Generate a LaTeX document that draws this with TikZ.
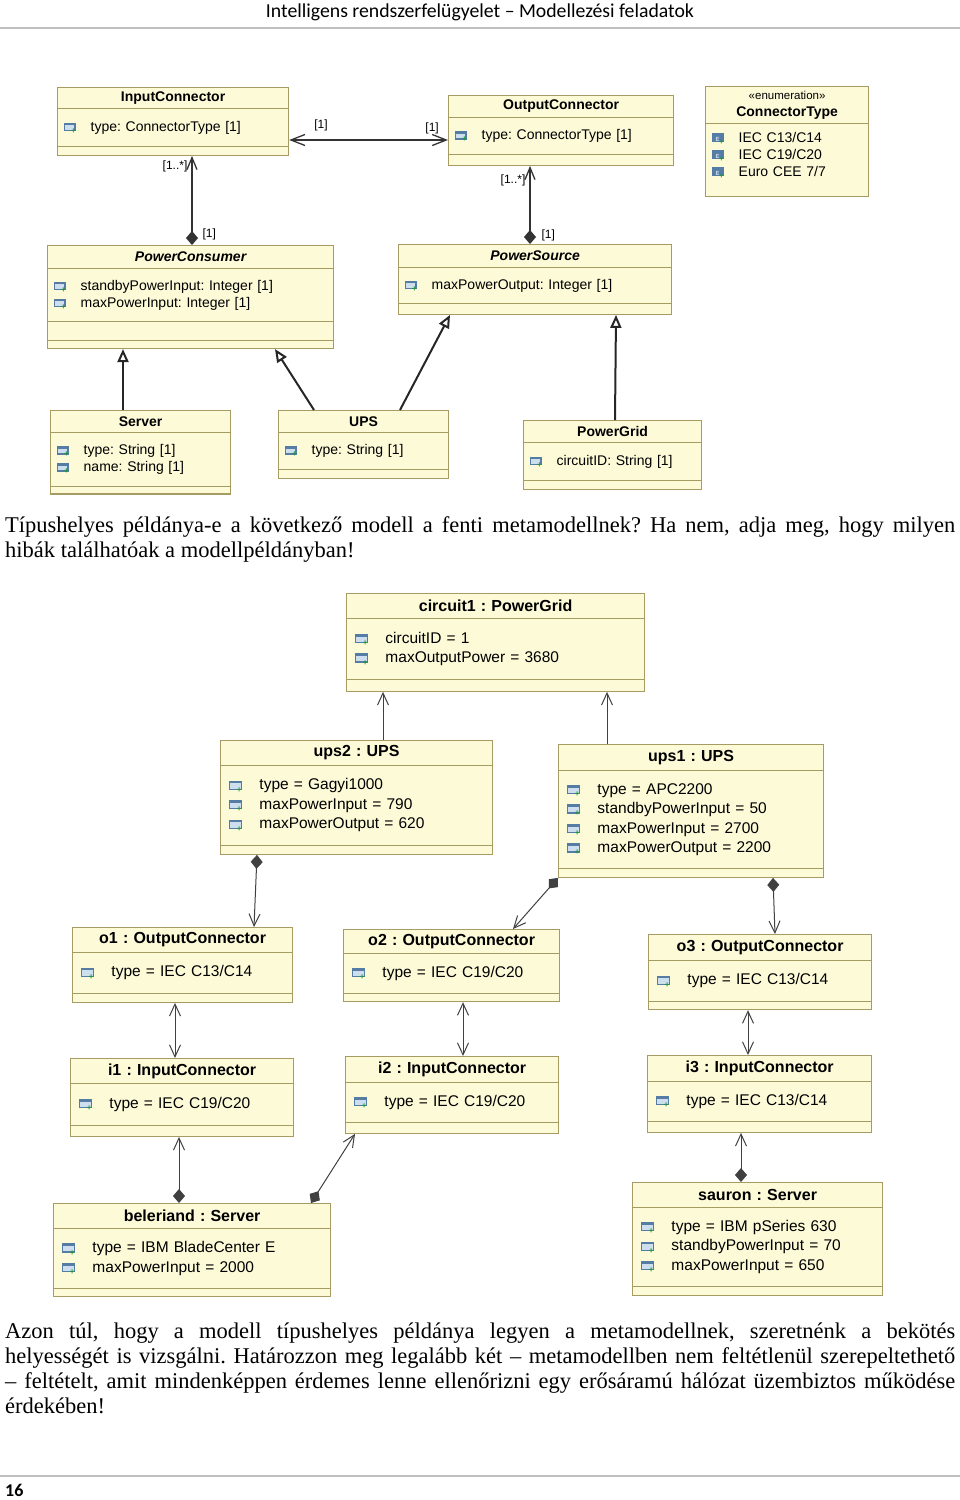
\documentclass[tikz,border=0pt]{standalone}
\usepackage{fontspec}
\setmainfont{Liberation Serif}
\setsansfont{Liberation Sans}
\newfontfamily\headfont{Carlito}
\usetikzlibrary{arrows.meta,shapes.multipart}
\frenchspacing

\definecolor{umlfill}{RGB}{253,250,216}
\definecolor{umlline}{RGB}{166,155,98}
\definecolor{iconblue}{RGB}{84,124,164}
\definecolor{iconfill}{RGB}{205,222,238}
\definecolor{icongreen}{RGB}{30,150,60}
\definecolor{rulegray}{RGB}{191,191,191}

% icons in front of attributes and literals
\newcommand{\attricon}{{\color{iconblue}\rule{0.85em}{0.6em}}\kern-0.77em%
  {\color{iconfill}\rule[0.08em]{0.69em}{0.34em}}\kern0.08em%
  \kern-0.32em\raisebox{-0.16em}{\textcolor{icongreen}{\fontsize{8}{8}\selectfont\bfseries +}}}
\newcommand{\liticon}{{\color{iconblue}\rule{0.85em}{0.7em}}\kern-0.77em%
  \makebox[0.69em]{\color{iconfill}\fontsize{6}{6}\selectfont\bfseries\raisebox{0.1em}{E}}\kern0.08em%
  \kern-0.32em\raisebox{-0.16em}{\textcolor{icongreen}{\fontsize{8}{8}\selectfont\bfseries +}}}

% compartments of a class box
\newcommand{\chead}[2]{\parbox[c][\dimexpr#1pt-1.3pt\relax][c]{\linewidth}{\centering #2}}
\newcommand{\cbody}[2]{\parbox[c][\dimexpr#1pt-1.3pt\relax][c]{\linewidth}{#2}}
\newcommand{\mattr}[1]{\hspace*{6pt}\attricon\hspace{15pt}#1\par}
\newcommand{\mlit}[1]{\hspace*{6pt}\liticon\hspace{15pt}#1\par}
\newcommand{\oattr}[1]{\hspace*{8pt}\attricon\hspace{18pt}#1\par}
\newcommand{\otitle}[1]{{\fontsize{16}{19}\selectfont\bfseries #1}}

\tikzset{umlbox/.style={draw=umlline, fill=umlfill, line width=1.2pt,
      rectangle split, inner sep=0pt, anchor=north west},
    meta/.style={umlbox, font=\sffamily\fontsize{14}{17}\selectfont},
    inst/.style={umlbox, font=\sffamily\fontsize{15.5}{19.5}\selectfont},
    mult/.style={font=\sffamily\fontsize{12}{14}\selectfont, inner sep=0pt},
    assoc/.style={draw=black!80, line width=1.3pt,
      arrows={Straight Barb[length=14pt,width=11pt]-Straight Barb[length=14pt,width=11pt]}},
    comp/.style={draw=black!80, line width=1.3pt,
      arrows={Diamond[length=14pt,width=12pt]-Straight Barb[length=12pt,width=10pt]}},
    gen/.style={draw=black!85, line width=2pt,
      arrows={-Triangle[fill=white,length=13pt,width=11pt]}},
    objlink/.style={draw=black!75, line width=1pt,
      arrows={-Straight Barb[length=12pt,width=11pt]}},
    objboth/.style={draw=black!75, line width=1pt,
      arrows={Straight Barb[length=12pt,width=11pt]-Straight Barb[length=12pt,width=11pt]}},
    objcomp/.style={draw=black!75, line width=1pt,
      arrows={Diamond[length=14pt,width=12pt]-Straight Barb[length=12pt,width=11pt]}},
    para/.style={anchor=north west, inner sep=0pt, text width=950pt, align=justify,
      font=\fontsize{22.5}{25}\selectfont},
    headtxt/.style={inner sep=0pt, font=\headfont\fontsize{19.75}{21}\selectfont},
    pgnum/.style={anchor=west, inner sep=0pt, font=\headfont\bfseries\fontsize{18}{20}\selectfont},
    }

\begin{document}
\begin{tikzpicture}[x=1pt, y=-1pt]
\useasboundingbox (0,0) rectangle (960,1500);
\node[headtxt] (hd) at (480,12) {Intelligens rendszerfelügyelet – Modellezési feladatok};
\draw[rulegray, line width=2pt] (0,28) -- (960,28);

% metamodel
\node[meta, rectangle split parts=3, text width=231pt] (ic) at (57,87) {\chead{21}{\bfseries InputConnector}\nodepart{two}\cbody{38}{\mattr{type: ConnectorType [1]}}\nodepart{three}\cbody{9}{}};
\node[meta, rectangle split parts=3, text width=225pt] (oc) at (448,95) {\chead{22}{\bfseries OutputConnector}\nodepart{two}\cbody{37}{\mattr{type: ConnectorType [1]}}\nodepart{three}\cbody{11}{}};
\node[meta, rectangle split parts=2, text width=163pt] (ct) at (705,86) {\chead{37}{{\fontsize{11.5}{13}\selectfont «enumeration»}\\[0pt]{\bfseries ConnectorType}}\nodepart{two}\cbody{73}{\mlit{IEC C13/C14}\mlit{IEC C19/C20}\mlit{Euro CEE 7/7}\vspace{9pt}}};
\node[meta, rectangle split parts=4, text width=286pt] (pc) at (47,245) {\chead{23}{\bfseries\itshape PowerConsumer}\nodepart{two}\cbody{53}{\mattr{standbyPowerInput: Integer [1]}\mattr{maxPowerInput: Integer [1]}}\nodepart{three}\cbody{19}{}\nodepart{four}\cbody{8}{}};
\node[meta, rectangle split parts=3, text width=273pt] (ps) at (398,244) {\chead{23}{\bfseries\itshape PowerSource}\nodepart{two}\cbody{36}{\mattr{maxPowerOutput: Integer [1]}}\nodepart{three}\cbody{11}{}};
\node[meta, rectangle split parts=3, text width=180pt] (srv) at (50,410) {\chead{22}{\bfseries Server}\nodepart{two}\cbody{54}{\mattr{type: String [1]}\mattr{name: String [1]}}\nodepart{three}\cbody{7}{}};
\node[meta, rectangle split parts=3, text width=170pt] (ups) at (278,410) {\chead{22}{\bfseries UPS}\nodepart{two}\cbody{37}{\mattr{type: String [1]}}\nodepart{three}\cbody{9}{}};
\node[meta, rectangle split parts=3, text width=178pt] (pg) at (523,420) {\chead{22}{\bfseries PowerGrid}\nodepart{two}\cbody{38}{\mattr{circuitID: String [1]}}\nodepart{three}\cbody{9}{}};

\coordinate (icr) at ([yshift=-53pt]ic.north east);
\draw[assoc] (icr) -- (icr -| oc.west)
  node[pos=0.2, above=8pt, mult] (m1) {[1]}
  node[pos=0.9, above=5pt, mult] (m2) {[1]};
\draw[comp] ([xshift=145pt]pc.north west) -- ([xshift=135pt]ic.south west)
  node[pos=0.88, left=4pt, mult] (m3) {[1..*]}
  node[pos=0.12, right=10pt, mult] (m4) {[1]};
\draw[comp] ([xshift=132pt]ps.north west) -- ([xshift=82pt]oc.south west)
  node[pos=0.82, left=4pt, mult] (m5) {[1..*]}
  node[pos=0.11, right=11pt, mult] (m6) {[1]};
\draw[gen] ([xshift=73pt]srv.north west) -- ([xshift=76pt]pc.south west);
\draw[gen] ([xshift=36pt]ups.north west) -- ([xshift=228pt]pc.south west);
\draw[gen] ([xshift=122pt]ups.north west) -- ([xshift=52pt]ps.south west);
\draw[gen] ([xshift=92pt]pg.north west) -- ([xshift=218pt]ps.south west);

\node[para] (q1) at (5,516) {Típushelyes példánya-e a következő modell a fenti metamodellnek? Ha nem, adja meg, hogy milyen\linebreak hibák találhatóak a modellpéldányban!};

% instance model
\node[inst, rectangle split parts=3, text width=298pt] (c1) at (346,593) {\chead{25}{\otitle{circuit1 : PowerGrid}}\nodepart{two}\cbody{61}{\oattr{circuitID = 1}\oattr{maxOutputPower = 3680}}\nodepart{three}\cbody{12}{}};
\node[inst, rectangle split parts=3, text width=272pt] (u2) at (220,740) {\chead{25}{\otitle{ups2 : UPS}}\nodepart{two}\cbody{80}{\oattr{type = Gagyi1000}\oattr{maxPowerInput = 790}\oattr{maxPowerOutput = 620}}\nodepart{three}\cbody{9}{}};
\node[inst, rectangle split parts=3, text width=265pt] (u1) at (558,744) {\chead{26}{\otitle{ups1 : UPS}}\nodepart{two}\cbody{98}{\oattr{type = APC2200}\oattr{standbyPowerInput = 50}\oattr{maxPowerInput = 2700}\oattr{maxPowerOutput = 2200}}\nodepart{three}\cbody{9}{}};
\node[inst, rectangle split parts=3, text width=220pt] (o1) at (72,927) {\chead{25}{\otitle{o1 : OutputConnector}}\nodepart{two}\cbody{41}{\oattr{type = IEC C13/C14}}\nodepart{three}\cbody{9}{}};
\node[inst, rectangle split parts=3, text width=216pt] (o2) at (343,929) {\chead{24}{\otitle{o2 : OutputConnector}}\nodepart{two}\cbody{40}{\oattr{type = IEC C19/C20}}\nodepart{three}\cbody{8}{}};
\node[inst, rectangle split parts=3, text width=223pt] (o3) at (648,934) {\chead{26}{\otitle{o3 : OutputConnector}}\nodepart{two}\cbody{41}{\oattr{type = IEC C13/C14}}\nodepart{three}\cbody{8}{}};
\node[inst, rectangle split parts=3, text width=223pt] (i1) at (70,1058) {\chead{25}{\otitle{i1 : InputConnector}}\nodepart{two}\cbody{42}{\oattr{type = IEC C19/C20}}\nodepart{three}\cbody{11}{}};
\node[inst, rectangle split parts=3, text width=213pt] (i2) at (345,1056) {\chead{26}{\otitle{i2 : InputConnector}}\nodepart{two}\cbody{40}{\oattr{type = IEC C19/C20}}\nodepart{three}\cbody{11}{}};
\node[inst, rectangle split parts=3, text width=224pt] (i3) at (647,1055) {\chead{26}{\otitle{i3 : InputConnector}}\nodepart{two}\cbody{40}{\oattr{type = IEC C13/C14}}\nodepart{three}\cbody{11}{}};
\node[inst, rectangle split parts=3, text width=277pt] (bel) at (53,1203) {\chead{25}{\otitle{beleriand : Server}}\nodepart{two}\cbody{60}{\oattr{type = IBM BladeCenter E}\oattr{maxPowerInput = 2000}}\nodepart{three}\cbody{8}{}};
\node[inst, rectangle split parts=3, text width=250pt] (sau) at (632,1182) {\chead{25}{\otitle{sauron : Server}}\nodepart{two}\cbody{79}{\oattr{type = IBM pSeries 630}\oattr{standbyPowerInput = 70}\oattr{maxPowerInput = 650}}\nodepart{three}\cbody{9}{}};

\draw[objlink] ([xshift=163pt]u2.north west) -- ([xshift=37pt]c1.south west);
\draw[objlink] ([xshift=49pt]u1.north west) -- ([xshift=261pt]c1.south west);
\draw[objcomp] ([xshift=37pt]u2.south west) -- ([xshift=182pt]o1.north west);
\draw[objcomp] (u1.south west) -- ([xshift=170pt]o2.north west);
\draw[objcomp] ([xshift=215pt]u1.south west) -- ([xshift=127pt]o3.north west);
\draw[objboth] ([xshift=103pt]o1.south west) -- ([xshift=105pt]i1.north west);
\draw[objboth] ([xshift=120pt]o2.south west) -- ([xshift=118pt]i2.north west);
\draw[objboth] ([xshift=100pt]o3.south west) -- ([xshift=101pt]i3.north west);
\draw[objcomp] ([xshift=126pt]bel.north west) -- ([xshift=109pt]i1.south west);
\draw[objcomp] ([xshift=258pt]bel.north west) -- ([xshift=10pt]i2.south west);
\draw[objcomp] ([xshift=109pt]sau.north west) -- ([xshift=94pt]i3.south west);

\node[para] (q2) at (5,1323) {Azon túl, hogy a modell típushelyes példánya legyen a metamodellnek, szeretnénk a bekötés\linebreak helyességét is vizsgálni. Határozzon meg legalább két – metamodellben nem feltétlenül szerepeltethető\linebreak – feltételt, amit mindenképpen érdemes lenne ellenőrizni egy erősáramú hálózat üzembiztos működése\linebreak érdekében!};

\draw[rulegray, line width=2pt] (0,1476) -- (960,1476);
\node[pgnum] (pn) at (5,1490) {16};
\end{tikzpicture}
\end{document}
